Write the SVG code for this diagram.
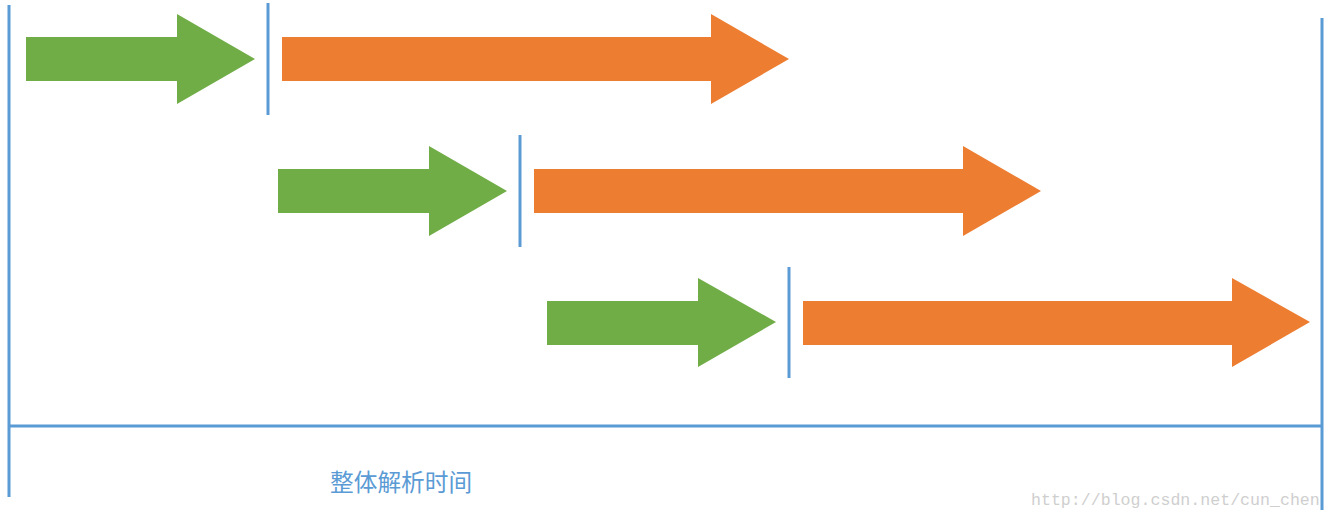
<svg xmlns="http://www.w3.org/2000/svg" width="1332" height="519" viewBox="0 0 1332 519">
<style>
.g{fill:#70AD47}
.o{fill:#ED7D31}
.ln{stroke:#5B9BD5;stroke-width:3;fill:none}
.t{font-family:"Noto Sans CJK SC","Noto Sans CJK JP",sans-serif;font-size:23.7px;fill:#5B9BD5}
.w{font-family:"Liberation Mono",monospace;font-size:16.6px;fill:#cfcfcf}
</style>
<rect width="1332" height="519" fill="#fff"/>
<g id="frame">
<line class="ln" x1="9" y1="5" x2="9" y2="497"/>
<line class="ln" x1="1322" y1="18" x2="1322" y2="510"/>
<line class="ln" x1="9" y1="426" x2="1322" y2="426"/>
</g>
<g id="row1">
<polygon class="g" points="26,37 177,37 177,14 255,59 177,104 177,81 26,81"/>
<line class="ln" x1="268" y1="3" x2="268" y2="115"/>
<polygon class="o" points="282,37 711,37 711,14 789,59 711,104 711,81 282,81"/>
</g>
<g id="row2">
<polygon class="g" points="278,169 429,169 429,146 507,191 429,236 429,213 278,213"/>
<line class="ln" x1="520" y1="135" x2="520" y2="247"/>
<polygon class="o" points="534,169 963,169 963,146 1041,191 963,236 963,213 534,213"/>
</g>
<g id="row3">
<polygon class="g" points="547,301 698,301 698,278 776,322 698,367 698,345 547,345"/>
<line class="ln" x1="789" y1="267" x2="789" y2="378"/>
<polygon class="o" points="803,301 1232,301 1232,278 1310,322 1232,367 1232,345 803,345"/>
</g>
<text class="t" x="330" y="491">整体解析时间</text>
<text class="w" x="1031" y="505">http://blog.csdn.net/cun_chen</text>
</svg>
